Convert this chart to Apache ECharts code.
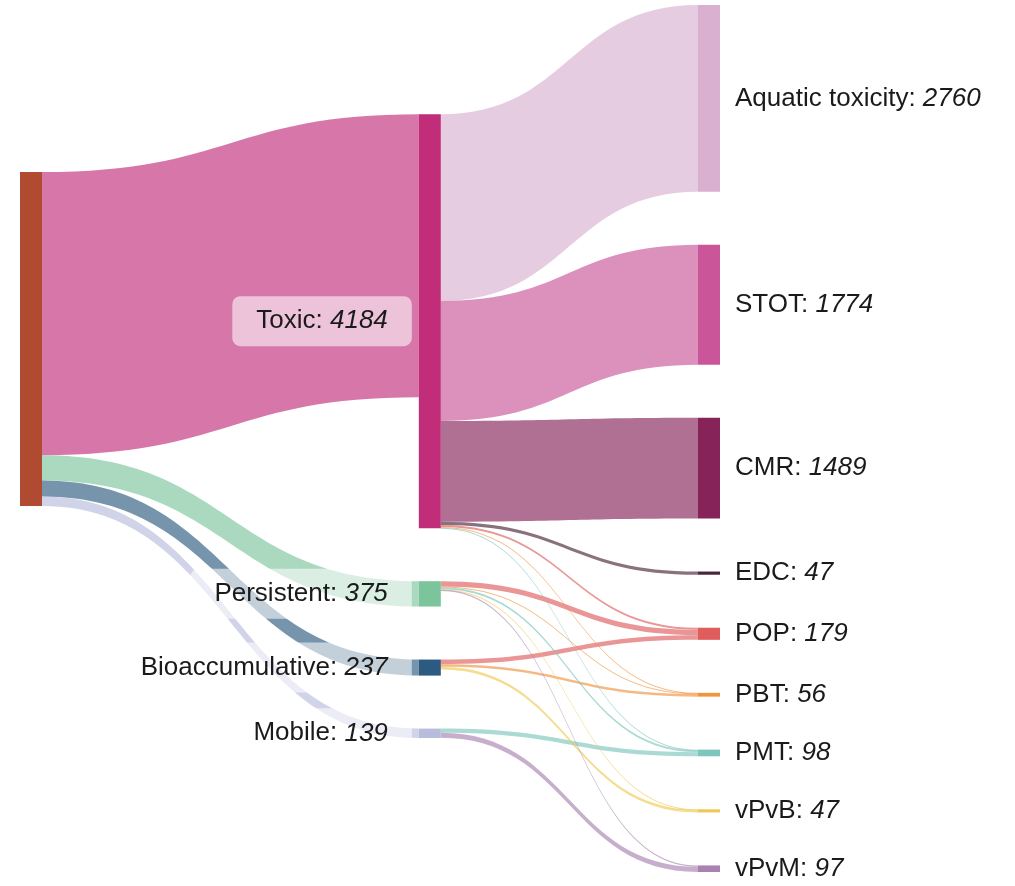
<!DOCTYPE html>
<html>
<head>
<meta charset="utf-8">
<script src="https://cdn.jsdelivr.net/npm/echarts@6/dist/echarts.min.js"></script>
<style>
  html, body { margin: 0; padding: 0; background: #fff; }
  #chart { width: 1015px; height: 886px; }
</style>
</head>
<body>
<div id="chart"></div>
<script>
// Data
var sourceName = 'Substances';

var groupNames = ['Toxic', 'Persistent', 'Bioaccumulative', 'Mobile'];
var groupValues = [4184, 375, 237, 139];

var hazardNames = ['Aquatic toxicity', 'STOT', 'CMR', 'EDC', 'POP', 'PBT', 'PMT', 'vPvB', 'vPvM'];
var hazardValues = [2760, 1774, 1489, 47, 179, 56, 98, 47, 97];

// group -> hazard flows (a hazard fed by several groups is split between them)
var flowFrom = ['Toxic', 'Toxic', 'Toxic', 'Toxic',
  'Toxic', 'Persistent', 'Bioaccumulative',
  'Toxic', 'Persistent', 'Bioaccumulative',
  'Toxic', 'Persistent', 'Mobile',
  'Persistent', 'Bioaccumulative',
  'Persistent', 'Mobile'];
var flowTo = ['Aquatic toxicity', 'STOT', 'CMR', 'EDC',
  'POP', 'POP', 'POP',
  'PBT', 'PBT', 'PBT',
  'PMT', 'PMT', 'PMT',
  'vPvB', 'vPvB',
  'vPvM', 'vPvM'];
var flowValues = [2760, 1774, 1489, 47,
  30, 80, 69,
  10, 8, 38,
  8, 30, 60,
  8, 39,
  20, 77];

// colours
var sourceColor = '#b04a31';
var groupColors = ['#c12d79', '#7cc59c', '#2d5a80', '#b9bddc'];
var hazardColors = ['#d9b0cf', '#ca5699', '#86245a', '#4a2638', '#df5d5d', '#ef9440', '#7ec5bd', '#efca52', '#a982b1'];

var FONT = '"Liberation Sans", Arial, Helvetica, sans-serif';

var nodes = [];
nodes.push({
  name: sourceName,
  depth: 0,
  itemStyle: { color: sourceColor },
  label: { show: false }
});
groupNames.forEach(function (n, i) {
  nodes.push({
    name: n,
    value: groupValues[i],
    depth: 10,
    itemStyle: { color: groupColors[i] },
    label: {
      position: 'left',
      distance: 7,
      padding: [12, 24],
      backgroundColor: 'rgba(255,255,255,0.56)',
      borderRadius: 8
    }
  });
});
hazardNames.forEach(function (n, i) {
  nodes.push({
    name: n,
    value: hazardValues[i],
    depth: 17,
    itemStyle: { color: hazardColors[i] },
    label: { position: 'right', distance: 15 }
  });
});

var links = [];
groupNames.forEach(function (n, i) {
  links.push({ source: sourceName, target: n, value: groupValues[i] });
});
flowFrom.forEach(function (s, i) {
  links.push({ source: s, target: flowTo[i], value: flowValues[i] });
});

var chart = echarts.init(document.getElementById('chart'));

var option = {
  backgroundColor: '#fff',
  animation: false,
  series: [{
    type: 'sankey',
    left: 20,
    top: 5,
    right: 295,
    bottom: 14,
    nodeWidth: 22,
    nodeGap: 53,
    nodeAlign: 'left',
    layoutIterations: 32,
    draggable: false,
    emphasis: { disabled: true },
    data: nodes,
    links: links,
    itemStyle: { borderWidth: 0 },
    lineStyle: { color: 'target', opacity: 0.65, curveness: 0.5 },
    label: {
      fontFamily: FONT,
      fontSize: 26,
      color: '#1a1a1a',
      formatter: function (p) {
        return p.name + ': {v|' + p.value + '}';
      },
      rich: {
        v: { fontFamily: FONT, fontSize: 26, fontStyle: 'italic', color: '#1a1a1a' }
      }
    }
  }]
};

chart.setOption(option);
</script>
</body>
</html>
